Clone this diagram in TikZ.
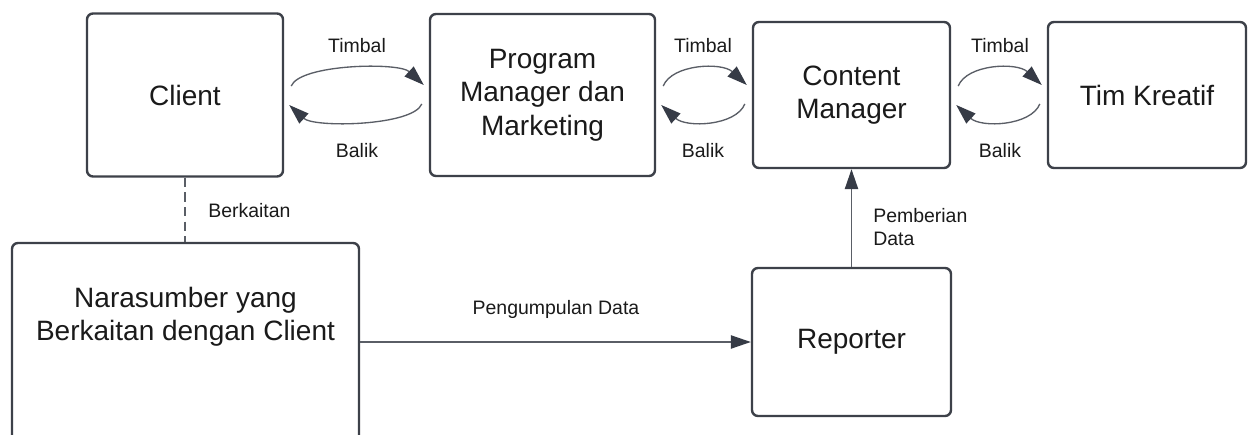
\documentclass[tikz,border=0pt]{standalone}
\usepackage{fontspec}
\setmainfont{Liberation Sans}
\usetikzlibrary{arrows.meta,calc}
\definecolor{edge}{HTML}{3D4149}
\definecolor{wire}{HTML}{5A5E66}
\definecolor{tip}{HTML}{363B46}
\definecolor{ink}{HTML}{1A1A1A}
\tikzset{
  box/.style={draw=edge, line width=1.8pt, rounded corners=4.5pt, fill=white,
    text=ink, align=center, font=\fontsize{21}{25}\selectfont, inner sep=0pt},
  lbl/.style={text=ink, font=\fontsize{14.6}{17.5}\selectfont, inner sep=0pt},
  flow/.style={draw=wire, line width=1pt,
    -{Triangle[length=15pt,width=10pt,fill=tip,color=tip]}},
  link/.style={draw=wire, line width=1pt, dash pattern=on 7pt off 4pt}
}
\begin{document}
\begin{tikzpicture}[x=0.75pt,y=-0.75pt]
\useasboundingbox (0,0) rectangle (1254,435);
\clip (0,0) rectangle (1254,435);

% main boxes
\node[box, minimum width=196*0.75pt, minimum height=163*0.75pt] (client) at (185,95) {Client};
\node[box, minimum width=225*0.75pt, minimum height=162*0.75pt] (pm) at (542.5,95) {Program\\Manager dan\\Marketing};
\node[box, minimum width=197*0.75pt, minimum height=146*0.75pt] (cm) at (851.5,95) {Content\\Manager};
\node[box, minimum width=198*0.75pt, minimum height=146*0.75pt] (tk) at (1147,95) {Tim Kreatif};
\node[box, minimum width=199*0.75pt, minimum height=148*0.75pt] (rep) at (851.5,342) {Reporter};
\node[box, minimum width=347*0.75pt, minimum height=210*0.75pt] (nara) at (185.5,348) {};
\node[text=ink, align=center, font=\fontsize{21}{25}\selectfont, inner sep=0pt] (naratext) at (185.5,317) {Narasumber yang\\Berkaitan dengan Client};

% feedback loops between neighbouring roles
\foreach \a/\b in {client/pm, pm/cm, cm/tk}{
  \draw[flow] ($(\a.east)+(7,-9)$) .. controls ($(\a.east)+(16,-31)$) and ($(\b.west)+(-30,-33)$) .. ($(\b.west)+(-5,-10)$);
  \draw[flow] ($(\b.west)+(-7,9)$) .. controls ($(\b.west)+(-16,31)$) and ($(\a.east)+(30,33)$) .. ($(\a.east)+(5,10)$);
}
\node[lbl] (t1) at (357,46) {Timbal};
\node[lbl] (b1) at (357,151) {Balik};
\node[lbl] (t2) at (703,46) {Timbal};
\node[lbl] (b2) at (703,151) {Balik};
\node[lbl] (t3) at (1000,46) {Timbal};
\node[lbl] (b3) at (1000,151) {Balik};

% client to sources
\draw[link] (client.south) -- (client.south |- nara.north);
\node[lbl, anchor=west] (rel) at (208,211) {Berkaitan};

% data collection and delivery
\draw[flow] (nara.east |- rep.west) -- (rep.west);
\node[lbl] (collect) at (556,309) {Pengumpulan Data};
\draw[flow] (rep.north) -- (cm.south);
\node[lbl, anchor=west, align=left, font=\fontsize{14.6}{17}\selectfont] (give) at (873,227) {Pemberian\\Data};
\end{tikzpicture}
\end{document}
